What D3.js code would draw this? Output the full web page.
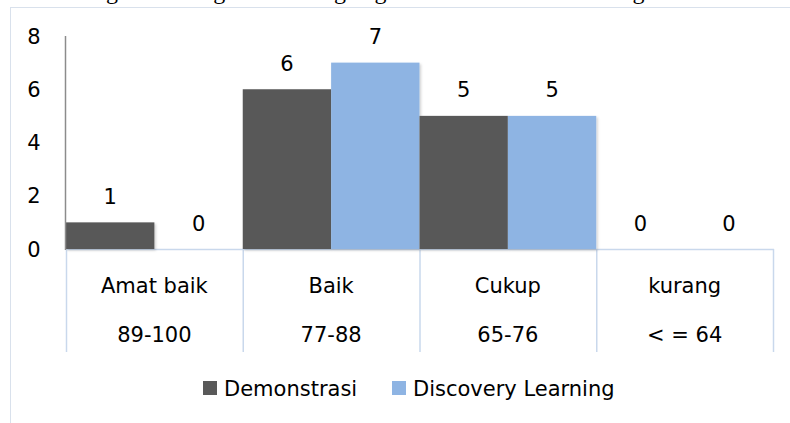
<!DOCTYPE html>
<html>
<head>
<meta charset="utf-8">
<script src="https://d3js.org/d3.v7.min.js"></script>
<style>
  body { margin: 0; background: #fff; }
  svg text { font-family: "DejaVu Sans", Carlito, Calibri, sans-serif; fill: #000; }
</style>
</head>
<body>
<svg id="chart" width="790" height="423"></svg>
<script>
  // data
  var categories = ["Amat baik", "Baik", "Cukup", "kurang"];
  var ranges = ["89-100", "77-88", "65-76", "< = 64"];
  var seriesNames = ["Demonstrasi", "Discovery Learning"];
  var demonstrasi = [1, 6, 5, 0];
  var discovery = [0, 7, 5, 0];
  var yTicks = [0, 2, 4, 6, 8];
  var colors = ["#595959", "#8eb4e3"];

  var svg = d3.select("#chart");

  // clipped caption line from the surrounding document (only its descenders show)
  svg.append("text")
    .attr("x", 40).attr("y", -1)
    .style("font-family", "'Liberation Serif', serif")
    .style("font-size", "24px")
    .text("ran diagram batang di atas dengan gambaran data dalam histogram Gambar");

  // chart frame
  svg.append("rect")
    .attr("x", 10.5).attr("y", 7.5)
    .attr("width", 800).attr("height", 430)
    .attr("fill", "#fff")
    .attr("stroke", "#d9e1ec");

  var defs = svg.append("defs");
  defs.append("filter").attr("id", "shadow")
    .attr("x", "-10%").attr("y", "-10%").attr("width", "130%").attr("height", "130%")
    .append("feDropShadow")
    .attr("dx", 1.5).attr("dy", 1.5).attr("stdDeviation", 1.2)
    .attr("flood-color", "#000").attr("flood-opacity", 0.18);

  var x = d3.scaleBand().domain(categories).range([66, 773]).padding(0);
  var xs = d3.scaleBand().domain(seriesNames).range([0, x.bandwidth()]).padding(0);
  var y = d3.scaleLinear().domain([0, 8]).range([249, 36]);

  // y tick labels
  svg.append("g").selectAll("text")
    .data(yTicks).enter().append("text")
    .attr("x", 34).attr("y", function(d) { return y(d); })
    .attr("dy", "0.36em")
    .attr("text-anchor", "middle")
    .style("font-size", "21px")
    .text(function(d) { return d; });

  // category dividers + x axis line
  var divs = categories.map(function(c) { return x(c); }).concat([x.range()[1]]);
  svg.append("g").selectAll("line")
    .data(divs).enter().append("line")
    .attr("x1", function(d) { return d + 0.5; })
    .attr("x2", function(d) { return d + 0.5; })
    .attr("y1", y(0)).attr("y2", 352)
    .attr("stroke", "#c9d8ec").attr("stroke-width", 1.5);

  svg.append("line")
    .attr("x1", x.range()[0]).attr("x2", x.range()[1] + 1)
    .attr("y1", y(0) + 0.5).attr("y2", y(0) + 0.5)
    .attr("stroke", "#c9d8ec").attr("stroke-width", 1.5);

  // bars
  var rows = categories.map(function(c, i) {
    return [
      { cat: c, series: seriesNames[0], value: demonstrasi[i], color: colors[0] },
      { cat: c, series: seriesNames[1], value: discovery[i], color: colors[1] }
    ];
  });
  var flat = d3.merge(rows);

  svg.append("g").selectAll("rect")
    .data(flat.filter(function(d) { return d.value > 0; }))
    .enter().append("rect")
    .attr("x", function(d) { return x(d.cat) + xs(d.series); })
    .attr("y", function(d) { return y(d.value); })
    .attr("width", xs.bandwidth())
    .attr("height", function(d) { return y(0) - y(d.value); })
    .attr("fill", function(d) { return d.color; })
    .attr("filter", "url(#shadow)");

  // y axis line
  svg.append("line")
    .attr("x1", 65.5).attr("x2", 65.5)
    .attr("y1", y(8)).attr("y2", y(0) + 1)
    .attr("stroke", "#8c8c8c").attr("stroke-width", 1.5);

  // data labels
  svg.append("g").selectAll("text")
    .data(flat).enter().append("text")
    .attr("x", function(d) { return x(d.cat) + xs(d.series) + xs.bandwidth() / 2; })
    .attr("y", function(d) { return y(d.value) - 26; })
    .attr("dy", "0.36em")
    .attr("text-anchor", "middle")
    .style("font-size", "21px")
    .text(function(d) { return d.value; });

  // category labels
  svg.append("g").selectAll("text")
    .data(categories).enter().append("text")
    .attr("x", function(d) { return x(d) + x.bandwidth() / 2; })
    .attr("y", 293)
    .attr("text-anchor", "middle")
    .style("font-size", "21px")
    .text(function(d) { return d; });

  svg.append("g").selectAll("text")
    .data(ranges).enter().append("text")
    .attr("x", function(d, i) { return x(categories[i]) + x.bandwidth() / 2; })
    .attr("y", 342)
    .attr("text-anchor", "middle")
    .style("font-size", "21px")
    .text(function(d) { return d; });

  // legend
  var legendX = [203, 392];
  var lg = svg.append("g").selectAll("g")
    .data(seriesNames).enter().append("g")
    .attr("transform", function(d, i) { return "translate(" + legendX[i] + ",388)"; });
  lg.append("rect")
    .attr("x", 0).attr("y", -7)
    .attr("width", 14).attr("height", 14)
    .attr("fill", function(d, i) { return colors[i]; });
  lg.append("text")
    .attr("x", 21).attr("y", 0).attr("dy", "0.36em")
    .style("font-size", "21px")
    .text(function(d) { return d; });
</script>
</body>
</html>
